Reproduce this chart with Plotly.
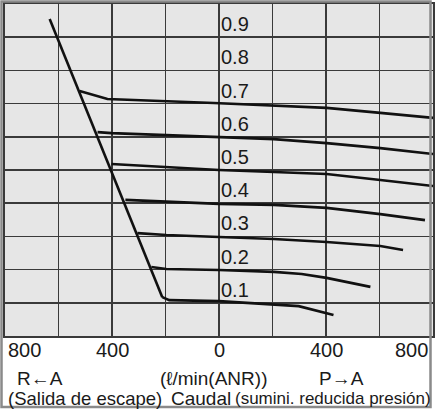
import plotly.graph_objects as go

# Flow rate (L/min ANR); negative = R<-A (exhaust side), positive = P->A (supply side)
# Pressure (MPa)
relief_x = [-633, -212]
relief_y = [0.955, 0.117]

p07_x = [-521, -417, -19, 205, 402, 603, 800]
p07_y = [0.738, 0.714, 0.702, 0.693, 0.687, 0.672, 0.657]

p06_x = [-454, -402, -197, 0, 205, 402, 603, 800]
p06_y = [0.614, 0.611, 0.605, 0.599, 0.593, 0.581, 0.566, 0.548]

p05_x = [-402, -197, 0, 205, 402, 603, 800]
p05_y = [0.518, 0.509, 0.500, 0.494, 0.488, 0.470, 0.452]

p04_x = [-350, -197, 0, 205, 402, 603, 770]
p04_y = [0.410, 0.404, 0.398, 0.395, 0.386, 0.367, 0.349]

p03_x = [-305, -197, 0, 205, 402, 603, 688]
p03_y = [0.310, 0.304, 0.298, 0.292, 0.283, 0.271, 0.259]

p02_x = [-253, -197, 0, 205, 309, 402, 566]
p02_y = [0.208, 0.202, 0.199, 0.193, 0.187, 0.175, 0.148]

p01_x = [-212, -186, 0, 205, 298, 428]
p01_y = [0.117, 0.108, 0.105, 0.096, 0.090, 0.063]

y_labels = ["0.1", "0.2", "0.3", "0.4", "0.5", "0.6", "0.7", "0.8", "0.9"]
y_label_vals = [0.1, 0.2, 0.3, 0.4, 0.5, 0.6, 0.7, 0.8, 0.9]
x_tick_labels = ["800", "400", "0", "400", "800"]
x_tick_vals = [-800, -400, 0, 400, 800]

FONT = "Liberation Sans, Arial, sans-serif"

fig = go.Figure()
series = [(relief_x, relief_y), (p07_x, p07_y), (p06_x, p06_y), (p05_x, p05_y),
          (p04_x, p04_y), (p03_x, p03_y), (p02_x, p02_y), (p01_x, p01_y)]
for xs, ys in series:
    fig.add_trace(go.Scatter(x=xs, y=ys, mode="lines",
                             line=dict(color="#111111", width=2.6),
                             showlegend=False, hoverinfo="skip"))

annotations = []
for txt, v in zip(y_labels, y_label_vals):
    annotations.append(dict(x=0, y=v, xref="x", yref="y", text=txt, showarrow=False,
                            xanchor="left", yanchor="bottom", xshift=0, yshift=0,
                            font=dict(family=FONT, size=20, color="#1a1a1a")))

# bottom tick labels
for txt, v in zip(x_tick_labels, x_tick_vals):
    if v == -800:
        xa, xs = "left", 1
    elif v == 800:
        xa, xs = "right", -3
    else:
        xa, xs = "center", 0
    annotations.append(dict(x=v, y=-0.042, xref="x", yref="paper", text=txt,
                            showarrow=False, xanchor=xa, yanchor="middle", xshift=xs,
                            font=dict(family=FONT, size=20, color="#1a1a1a")))

def px_to_x(px):
    return (px - 5) / 430.0

def py_to_y(py):
    return (336 - py) / 332.0

line2 = [("R\u2190A", 40), ("(\u2113/min(ANR))", 214), ("P\u2192A", 343)]
for txt, cx in line2:
    annotations.append(dict(x=px_to_x(cx), y=py_to_y(378), xref="paper", yref="paper",
                            text=txt, showarrow=False, xanchor="center", yanchor="middle",
                            font=dict(family=FONT, size=19, color="#1a1a1a")))

annotations.append(dict(x=px_to_x(6), y=py_to_y(398), xref="paper", yref="paper",
                        text="(Salida de escape)", showarrow=False, xanchor="left",
                        yanchor="middle", font=dict(family=FONT, size=18.5, color="#1a1a1a")))
annotations.append(dict(x=px_to_x(202), y=py_to_y(398), xref="paper", yref="paper",
                        text="Caudal", showarrow=False, xanchor="center",
                        yanchor="middle", font=dict(family=FONT, size=19, color="#1a1a1a")))
annotations.append(dict(x=px_to_x(234), y=py_to_y(398), xref="paper", yref="paper",
                        text="(sumini. reducida presión)", showarrow=False, xanchor="left",
                        yanchor="middle", font=dict(family=FONT, size=17, color="#1a1a1a")))

shapes = [dict(type="rect", xref="paper", yref="paper",
               x0=px_to_x(1.5), x1=px_to_x(432.5), y0=py_to_y(407), y1=py_to_y(1.5),
               line=dict(color="#8a8a8a", width=2.5), layer="above")]

axis_common = dict(showgrid=True, gridcolor="#3a3a3a", gridwidth=1.5, zeroline=False,
                   showline=True, mirror=True, linecolor="#3a3a3a", linewidth=2,
                   showticklabels=False, ticks="")

fig.update_layout(
    width=435, height=410,
    margin=dict(l=5, r=0, t=4, b=74),
    paper_bgcolor="white", plot_bgcolor="#e6e6e6",
    xaxis=dict(range=[-800, 800], dtick=200, tick0=0, **axis_common),
    yaxis=dict(range=[0, 1], dtick=0.1, tick0=0, **axis_common),
    annotations=annotations, shapes=shapes,
    showlegend=False,
)

fig.write_html("out.html",
               config={"displayModeBar": False, "staticPlot": True},
               post_script="document.body.style.margin='0';document.body.style.padding='0';document.documentElement.style.overflow='hidden';")
